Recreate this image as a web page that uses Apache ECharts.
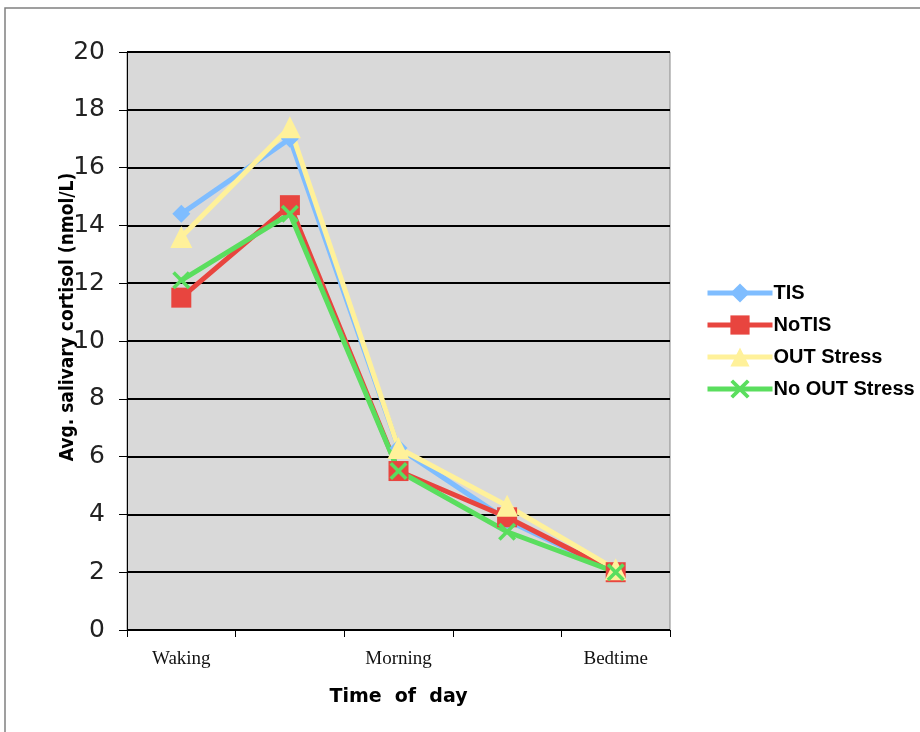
<!DOCTYPE html>
<html><head><meta charset="utf-8">
<script src="https://cdn.jsdelivr.net/npm/echarts@6/dist/echarts.min.js"></script>
<style>html,body{margin:0;padding:0;background:#fff}#c{width:920px;height:732px}</style>
</head><body><div id="c"></div>
<script>
const categories = ['Waking', '', 'Morning', '', 'Bedtime'];
const tis = [14.4, 17.0, 6.3, 3.8, 2.0];
const noTis = [11.5, 14.7, 5.5, 3.9, 2.0];
const outStress = [13.6, 17.4, 6.3, 4.3, 2.1];
const noOutStress = [12.1, 14.4, 5.5, 3.4, 2.0];
const yTicks = [0, 2, 4, 6, 8, 10, 12, 14, 16, 18, 20];

const xSym = 'path://M0,1.4L1.4,0L5,3.6L8.6,0L10,1.4L6.4,5L10,8.6L8.6,10L5,6.4L1.4,10L0,8.6L3.6,5Z';
function mk(name, data, color, symbol, size) {
  return {
    name, type: 'line', data, symbol, symbolSize: size,
    lineStyle: { color, width: 5 },
    itemStyle: { color },
    emphasis: { disabled: true },
    animation: false
  };
}
const chart = echarts.init(document.getElementById('c'));
chart.setOption({
  animation: false,
  backgroundColor: '#fff',
  graphic: [
    { type: 'rect', shape: { x: 5, y: 8, width: 940, height: 760 }, style: { fill: 'none', stroke: '#808080', lineWidth: 1.5 }, z: -1 },
    { type: 'text', x: 68, y: 317, rotation: Math.PI / 2, z: 100,
      style: { text: 'Avg. salivary cortisol (nmol/L)', fill: '#000', font: 'bold 19px "DejaVu Sans Condensed", "DejaVu Sans"', align: 'center', verticalAlign: 'middle' } }
  ],
  grid: { left: 127, right: 250, top: 52, bottom: 102, show: true, backgroundColor: '#d9d9d9', borderColor: '#888', borderWidth: 1 },
  legend: {
    orient: 'vertical', left: 700, top: 278, itemWidth: 65, itemHeight: 24, itemGap: 12,
    lineStyle: { width: 5 },
    textStyle: { fontFamily: 'Liberation Sans', fontWeight: 'bold', fontSize: 20, color: '#000', padding: [0, 0, 0, -4] },
    data: ['TIS', 'NoTIS', 'OUT Stress', 'No OUT Stress']
  },
  xAxis: {
    type: 'category', data: categories, boundaryGap: true,
    name: 'Time  of  day', nameLocation: 'middle', nameGap: 58,
    nameTextStyle: { fontFamily: 'DejaVu Sans', fontWeight: 'bold', fontSize: 19, color: '#000' },
    axisLine: { lineStyle: { color: '#000', width: 1 } },
    axisTick: { show: true, length: 7, lineStyle: { color: '#000' } },
    axisLabel: { interval: 0, margin: 20, fontFamily: 'Liberation Serif', fontSize: 19, color: '#111' },
    splitLine: { show: false }
  },
  yAxis: {
    type: 'value', min: yTicks[0], max: yTicks[yTicks.length - 1], interval: 2,
    axisLine: { show: true, lineStyle: { color: '#000', width: 1 } },
    axisTick: { show: true, length: 8, lineStyle: { color: '#000' } },
    axisLabel: { margin: 22, fontFamily: 'DejaVu Sans', fontSize: 25, color: '#222' },
    splitLine: { show: true, lineStyle: { color: '#000', width: 2 } }
  },
  series: [
    mk('TIS', tis, '#7fbdff', 'diamond', 18),
    mk('NoTIS', noTis, '#e8453f', 'rect', 20),
    mk('OUT Stress', outStress, '#fff19a', 'triangle', 22),
    mk('No OUT Stress', noOutStress, '#5ade5e', xSym, 18)
  ]
});
</script></body></html>
